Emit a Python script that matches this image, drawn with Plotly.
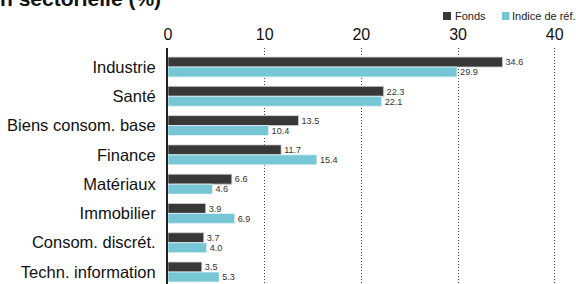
import plotly.graph_objects as go

categories = ["Industrie", "Santé", "Biens consom. base", "Finance", "Matériaux",
              "Immobilier", "Consom. discrét.", "Techn. information"]
fonds = [34.6, 22.3, 13.5, 11.7, 6.6, 3.9, 3.7, 3.5]
indice = [29.9, 22.1, 10.4, 15.4, 4.6, 6.9, 4.0, 5.3]
x_ticks = [0, 10, 20, 30, 40]
series_names = ["Fonds", "Indice de réf."]

DARK = "#383838"
LIGHT = "#76c6d6"
FONT = "Liberation Sans"

W, H = 576, 284
L, T = 168, 48
PW, PH = W - L, H - T


def px(x):
    return (x - L) / PW


def py(y):
    return 1 + (T - y) / PH


fig = go.Figure()
fig.add_trace(go.Bar(
    y=categories, x=fonds, orientation="h", name=series_names[0],
    marker=dict(color=DARK, line=dict(color="#d0d0d0", width=0.8)),
    text=[f"{v:.1f}" for v in fonds], textposition="outside",
    textfont=dict(size=11, color="#333333", family=FONT), cliponaxis=False,
))
fig.add_trace(go.Bar(
    y=categories, x=indice, orientation="h", name=series_names[1],
    marker=dict(color=LIGHT, line=dict(color="#e6f4f7", width=0.8)),
    text=[f"{v:.1f}" for v in indice], textposition="outside",
    textfont=dict(size=11, color="#333333", family=FONT), cliponaxis=False,
))

shapes = [
    dict(type="rect", xref="paper", yref="paper", x0=px(443), x1=px(451),
         y0=py(20), y1=py(12), fillcolor=DARK, line=dict(width=0)),
    dict(type="rect", xref="paper", yref="paper", x0=px(502), x1=px(509.5),
         y0=py(20), y1=py(12), fillcolor=LIGHT, line=dict(width=0)),
]

fig.update_layout(
    width=W, height=H,
    margin=dict(l=L, r=0, t=T, b=0, autoexpand=False),
    paper_bgcolor="white", plot_bgcolor="white",
    barmode="group", bargap=0.32, bargroupgap=0,
    font=dict(family=FONT, color="#1a1a1a"),
    showlegend=False,
    xaxis=dict(side="top", range=[0, 42.2], tickvals=x_ticks,
               ticktext=[str(t) for t in x_ticks], automargin=False,
               tickfont=dict(size=16, color="#111111"),
               showgrid=True, gridcolor="#444444", griddash="1px,2px", gridwidth=1,
               zeroline=False, showline=False, ticks="", ticklabelstandoff=4),
    yaxis=dict(autorange=False, range=[7.41, -0.65], showgrid=False, automargin=False,
               tickfont=dict(size=16.5, color="#111111"), ticks="",
               showline=True, linecolor="#222222", linewidth=2,
               ticklabelstandoff=7, zeroline=False),
    shapes=shapes,
    annotations=[
        dict(text="<b>Répartition sectorielle (%)</b>", xref="paper", yref="paper",
             x=px(163), y=py(-1), xanchor="right", yanchor="middle",
             showarrow=False, font=dict(size=21, color="#111111", family=FONT)),
        dict(text=series_names[0], xref="paper", yref="paper",
             x=px(453), y=py(16), xanchor="left", yanchor="middle",
             showarrow=False, font=dict(size=11, color="#222222", family=FONT)),
        dict(text=series_names[1], xref="paper", yref="paper",
             x=px(510), y=py(16), xanchor="left", yanchor="middle",
             showarrow=False, font=dict(size=11, color="#222222", family=FONT)),
    ],
)

fig.write_html("out.html", config={"displayModeBar": False},
               post_script="document.body.style.margin='0';document.body.style.overflow='hidden';")
